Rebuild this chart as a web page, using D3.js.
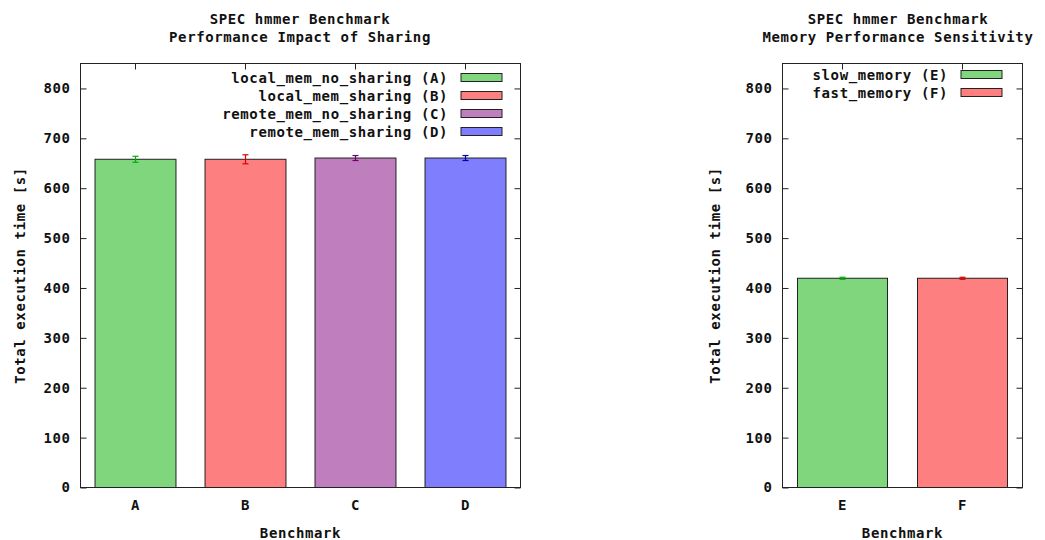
<!DOCTYPE html>
<html>
<head>
<meta charset="utf-8">
<script src="https://cdn.jsdelivr.net/npm/d3@7"></script>
<style>
  html, body { margin: 0; padding: 0; background: #fff; }
  svg text { font-family: "DejaVu Sans Mono", "Liberation Mono", monospace; font-weight: bold; font-size: 14px; letter-spacing: 0.6px; fill: #111; }
</style>
</head>
<body>
<svg id="chart" width="1045" height="540"></svg>
<script>
// Sharing experiment (left panel)
const sharingCategories = ["A", "B", "C", "D"];
const sharingLabels = [
  "local_mem_no_sharing (A)",
  "local_mem_sharing (B)",
  "remote_mem_no_sharing (C)",
  "remote_mem_sharing (D)"
];
const sharingTimes = [658, 658, 660.5, 660.5];
const sharingErrors = [6, 9, 5, 5];
const sharingTitle = ["SPEC hmmer Benchmark", "Performance Impact of Sharing"];

// Memory speed experiment (right panel)
const memoryCategories = ["E", "F"];
const memoryLabels = ["slow_memory (E)", "fast_memory (F)"];
const memoryTimes = [419.5, 419.5];
const memoryErrors = [2, 2];
const memoryTitle = ["SPEC hmmer Benchmark", "Memory Performance Sensitivity"];

const yTicks = [0, 100, 200, 300, 400, 500, 600, 700, 800];
const yMax = 850;
const xAxisTitle = "Benchmark";
const yAxisTitle = "Total execution time [s]";

const fills = ["#80d67d", "#fe7f7f", "#bf7fbf", "#7f7ffe"];
const errColors = ["#00b000", "#e00000", "#700070", "#0000b0"];

const svg = d3.select("#chart");

function drawPanel(opts) {
  const { left, right, top, bottom, cats, labels, values, errors, title, padInner,
          legendTextX, legendTop, titleX, yTitleX } = opts;
  const g = svg.append("g");

  const x = d3.scaleBand().domain(cats).range([left, right])
    .paddingInner(padInner).paddingOuter(padInner / 2);
  const y = d3.scaleLinear().domain([0, yMax]).range([bottom, top]);

  // title
  title.forEach((t, i) => {
    g.append("text").attr("x", titleX).attr("y", 24 + i * 18)
      .attr("text-anchor", "middle").text(t);
  });

  // y axis ticks and labels (inward ticks on both sides)
  const yAxisL = d3.axisLeft(y).tickValues(yTicks).tickSize(-6).tickPadding(10);
  const yAxisR = d3.axisRight(y).tickValues(yTicks).tickSize(-6).tickFormat("");
  const gl = g.append("g").attr("transform", `translate(${left},0)`).call(yAxisL);
  const gr = g.append("g").attr("transform", `translate(${right},0)`).call(yAxisR);
  [gl, gr].forEach(a => {
    a.select(".domain").remove();
    a.selectAll("line").attr("stroke", "#222");
    a.selectAll("text").attr("font-family", null).attr("font-size", null).attr("fill", "#111");
  });

  // x axis ticks (inward) on top and bottom, labels below
  const xAxisB = d3.axisBottom(x).tickSize(-6).tickPadding(13);
  const xAxisT = d3.axisTop(x).tickSize(-6).tickFormat("");
  const gb = g.append("g").attr("transform", `translate(0,${bottom})`).call(xAxisB);
  const gt = g.append("g").attr("transform", `translate(0,${top})`).call(xAxisT);
  [gb, gt].forEach(a => {
    a.select(".domain").remove();
    a.selectAll("line").attr("stroke", "#222");
    a.selectAll("text").attr("font-family", null).attr("font-size", null).attr("fill", "#111");
  });

  // bars
  g.selectAll("rect.bar").data(values).enter().append("rect")
    .attr("class", "bar")
    .attr("x", (d, i) => x(cats[i]))
    .attr("width", x.bandwidth())
    .attr("y", d => y(d))
    .attr("height", d => y(0) - y(d))
    .attr("fill", (d, i) => fills[i])
    .attr("stroke", "#222").attr("stroke-width", 1);

  // error bars
  const eb = g.selectAll("g.err").data(values).enter().append("g").attr("class", "err")
    .attr("stroke", (d, i) => errColors[i]).attr("stroke-width", 1.2);
  eb.append("line")
    .attr("x1", (d, i) => x(cats[i]) + x.bandwidth() / 2)
    .attr("x2", (d, i) => x(cats[i]) + x.bandwidth() / 2)
    .attr("y1", (d, i) => y(d - errors[i]))
    .attr("y2", (d, i) => y(d + errors[i]));
  [1, -1].forEach(s => {
    eb.append("line")
      .attr("x1", (d, i) => x(cats[i]) + x.bandwidth() / 2 - 3)
      .attr("x2", (d, i) => x(cats[i]) + x.bandwidth() / 2 + 3)
      .attr("y1", (d, i) => y(d + s * errors[i]))
      .attr("y2", (d, i) => y(d + s * errors[i]));
  });

  // frame
  g.append("rect").attr("x", left).attr("y", top)
    .attr("width", right - left).attr("height", bottom - top)
    .attr("fill", "none").attr("stroke", "#222").attr("stroke-width", 1);

  // legend
  labels.forEach((lab, i) => {
    const cy = legendTop + i * 18;
    g.append("text").attr("x", legendTextX).attr("y", cy + 5)
      .attr("text-anchor", "end").text(lab);
    g.append("rect").attr("x", legendTextX + 13).attr("y", cy - 4)
      .attr("width", 41).attr("height", 8)
      .attr("fill", fills[i]).attr("stroke", "#222").attr("stroke-width", 1);
  });

  // axis titles
  g.append("text").attr("x", (left + right) / 2).attr("y", 538)
    .attr("text-anchor", "middle").text(xAxisTitle);
  g.append("text")
    .attr("transform", `translate(${yTitleX},${(top + bottom) / 2}) rotate(-90)`)
    .attr("text-anchor", "middle").text(yAxisTitle);
}

drawPanel({
  left: 80.5, right: 520.5, top: 63.5, bottom: 487.5,
  cats: sharingCategories, labels: sharingLabels,
  values: sharingTimes, errors: sharingErrors, title: sharingTitle,
  padInner: 0.264, legendTextX: 448, legendTop: 77.5, titleX: 300, yTitleX: 25
});

drawPanel({
  left: 782.5, right: 1022.5, top: 63.5, bottom: 487.5,
  cats: memoryCategories, labels: memoryLabels,
  values: memoryTimes, errors: memoryErrors, title: memoryTitle,
  padInner: 0.25, legendTextX: 948, legendTop: 74.5, titleX: 898, yTitleX: 720
});
</script>
</body>
</html>
